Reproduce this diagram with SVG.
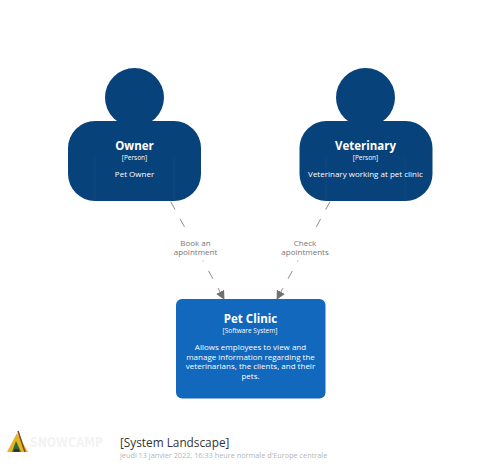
<svg xmlns="http://www.w3.org/2000/svg" width="500" height="467" viewBox="0 0 500 467">
<style>
text{font-family:"Open Sans","Noto Sans","DejaVu Sans",sans-serif;text-anchor:middle}
.person{fill:#08427b}
.seam{stroke:#1a4f80;stroke-width:.5;fill:none}
.w{fill:#fff}
.name{font-size:11.5px;font-weight:700}
.tag{font-size:6.500px}
.desc{font-size:8px}
.conn{stroke:#707070;stroke-width:.8;fill:none;stroke-dasharray:9 10.700}
.lbl{font-size:8px;fill:#777}
</style>
<defs>
<marker id="arrow" viewBox="0 0 10 10" refX="9" refY="5" markerWidth="9" markerHeight="9" markerUnits="userSpaceOnUse" orient="auto"><path d="M0 0L10 5L0 10z" fill="#707070"/></marker>
</defs>
<rect width="500" height="467" fill="#fff"/>
<g id="connectors">
<path class="conn" d="M170.700 201.700L224 299" marker-end="url(#arrow)"/>
<path class="conn" d="M330 201.700L277 299" marker-end="url(#arrow)"/>
<rect x="165" y="234" width="60" height="26.500" fill="#fff"/>
<rect x="275" y="234" width="60" height="26.500" fill="#fff"/>
<text class="lbl" x="195.500" y="245.500">Book an</text>
<text class="lbl" x="195.500" y="255">apointment</text>
<text class="lbl" x="305" y="245.500">Check</text>
<text class="lbl" x="305" y="255">apointments</text>
</g>
<g id="owner">
<circle class="person" cx="134.500" cy="97.500" r="29.500"/>
<rect class="person" x="68" y="121" width="133" height="80" rx="27"/>
<path class="seam" d="M95 157V201M174 157V201"/>
<text class="w name" x="134.500" y="150">Owner</text>
<text class="w tag" x="134.500" y="160">[Person]</text>
<text class="w desc" x="134.500" y="177">Pet Owner</text>
</g>
<g id="veterinary">
<circle class="person" cx="365.500" cy="97.500" r="29.500"/>
<rect class="person" x="299.500" y="121" width="133" height="80" rx="27"/>
<path class="seam" d="M326 157V201M405 157V201"/>
<text class="w name" x="365.500" y="150">Veterinary</text>
<text class="w tag" x="365.500" y="160">[Person]</text>
<text class="w desc" x="365.500" y="177">Veterinary working at pet clinic</text>
</g>
<g id="pet-clinic">
<rect x="176" y="299" width="149.500" height="99.500" rx="6" fill="#1168bd"/>
<text class="w name" x="250.500" y="323">Pet Clinic</text>
<text class="w tag" x="250" y="333">[Software System]</text>
<text class="w desc" x="250.500" y="350">Allows employees to view and</text>
<text class="w desc" x="250.500" y="359.700">manage information regarding the</text>
<text class="w desc" x="250.500" y="369.300">veterinarians, the clients, and their</text>
<text class="w desc" x="250.500" y="379">pets.</text>
</g>
<g id="footer">
<path d="M7 452L17 433L28 452z" fill="#e6b422"/>
<path d="M18 431L25 452" stroke="#7a4a22" stroke-width="1.500" fill="none"/>
<path d="M12 452L16 441L21 452z" fill="#2f6b3a"/>
<path d="M14 452h5v-3h-5z" fill="#333"/>
<text x="30" y="447" textLength="73" lengthAdjust="spacingAndGlyphs" style="font-size:14px;font-weight:800;text-anchor:start;fill:#f3f3f3;font-family:'DejaVu Sans',sans-serif">SNOWCAMP</text>
<text x="120" y="447" style="font-size:11.800px;text-anchor:start;fill:#333">[System Landscape]</text>
<text x="120" y="458" style="font-size:7.300px;text-anchor:start;fill:#b5b5b5">jeudi 13 janvier 2022, 16:33 heure normale d'Europe centrale</text>
</g>
</svg>
